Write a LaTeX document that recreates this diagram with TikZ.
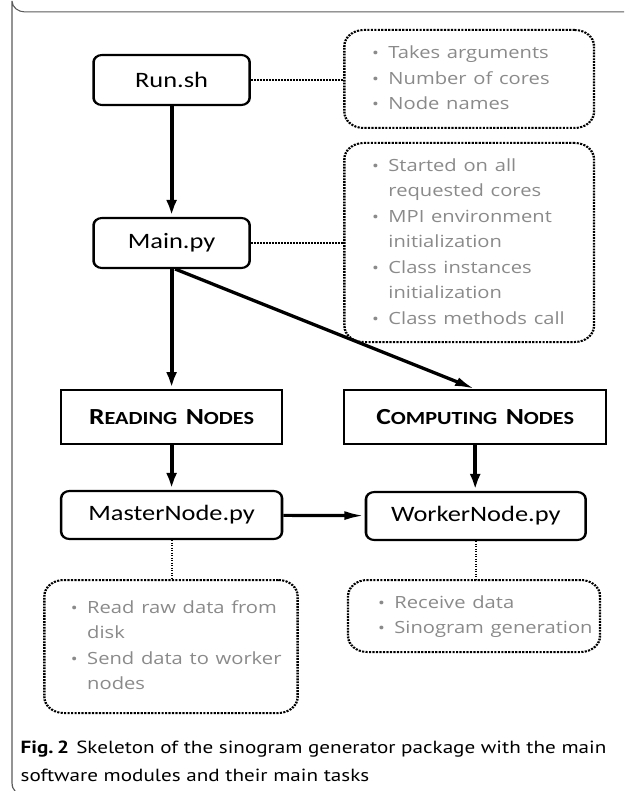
\documentclass[tikz,border=0pt]{standalone}
\usepackage{fontspec}
\setmainfont{Carlito}
\newfontfamily\capfont{PT Sans}
\newfontfamily\notefont{Open Sans}
\usetikzlibrary{arrows.meta}
\definecolor{notegray}{HTML}{8A8A8A}
\definecolor{framegray}{HTML}{5A5A5A}
\newcommand{\nb}{{\scalebox{0.9}{\textbullet}}}
\newcommand{\fsc}[2]{{\fontsize{23}{23}\selectfont #1}{\fontsize{18.5}{18.5}\selectfont #2}}
\tikzset{
  modbox/.style={draw, line width=2.1pt, rounded corners=7pt, fill=white, font=\fontsize{22}{22}\selectfont, inner sep=0pt},
  groupbox/.style={draw, line width=1.8pt, fill=white, font=\bfseries, inner sep=0pt},
  notebox/.style={draw, line width=2pt, dash pattern=on 1.8pt off 1.1pt, rounded corners=16pt, text=notegray, align=left, font=\notefont\fontsize{16.8}{25.5}\selectfont, inner ysep=0pt},
  flow/.style={line width=3.2pt, -{Latex[length=17pt,width=9pt]}},
  link/.style={line width=1.8pt, dash pattern=on 1.4pt off 1.1pt},
}
\begin{document}
\begin{tikzpicture}[x=1pt,y=-1pt]
\useasboundingbox (0,0) rectangle (624,791);
\begin{scope}[transform canvas={xscale=1.2}]
% frame
\draw[framegray, line width=1pt] (520,12) -- (21,12) arc[start angle=90, end angle=180, radius=11] -- (10,782) .. controls (10,787) and (11,789) .. (12.5,791);
% modules
\node[modbox, minimum width=130pt, minimum height=50pt] (run) at (143,80) {Run.sh};
\node[modbox, minimum width=130pt, minimum height=50pt] (main) at (143,243) {Main.py};
\node[groupbox, minimum width=184pt, minimum height=54pt] (read) at (143,417) {\fsc{R}{EADING}\hspace{7pt}\fsc{N}{ODES}};
\node[groupbox, minimum width=218pt, minimum height=54pt] (comp) at (396,417) {\fsc{C}{OMPUTING}\hspace{7pt}\fsc{N}{ODES}};
\node[modbox, minimum width=184pt, minimum height=48pt] (master) at (143,515) {MasterNode.py};
\node[modbox, minimum width=183pt, minimum height=48pt] (worker) at (396.5,516) {WorkerNode.py};
% notes
\node[notebox, minimum height=98pt, text width=162pt, inner xsep=23pt] (runnote) at (391,79) {%
\begin{tabular}{@{}l@{\hspace{8pt}}l@{}}
\nb & Takes arguments\\
\nb & Number of cores\\
\nb & Node names
\end{tabular}};
\node[notebox, minimum height=199pt, text width=162pt, inner xsep=23pt] (mainnote) at (391,242.5) {%
\begin{tabular}{@{}l@{\hspace{8pt}}l@{}}
\nb & Started on all\\
 & requested cores\\
\nb & MPI environment\\
 & initialization\\
\nb & Class instances\\
 & initialization\\
\nb & Class methods call
\end{tabular}};
\node[notebox, minimum height=133pt, text width=167pt, inner xsep=22pt] (masternote) at (142.5,646.5) {%
\begin{tabular}{@{}l@{\hspace{8pt}}l@{}}
\nb & Read raw data from\\
 & disk\\
\nb & Send data to worker\\
 & nodes
\end{tabular}};
\node[notebox, minimum height=72pt, text width=160pt, inner xsep=25pt] (workernote) at (395,616) {%
\begin{tabular}{@{}l@{\hspace{8pt}}l@{}}
\nb & Receive data\\
\nb & Sinogram generation
\end{tabular}};
% connectors
\draw[link] (run.east) -- (runnote.west |- run.east);
\draw[link] (main.east) -- (mainnote.west |- main.east);
\draw[link] (master.south) -- (master.south |- masternote.north);
\draw[link] (worker.south) -- (worker.south |- workernote.north);
\draw[flow] (run) -- (main);
\draw[flow] (main) -- (read);
\draw[flow] ([xshift=3pt]main.south) -- (comp.north);
\draw[flow] (read) -- (master);
\draw[flow] (comp.south) -- (comp.south |- worker.north);
\draw[flow] (master) -- (worker);
% caption
\node[anchor=base west, inner sep=0pt, font=\capfont\fontsize{17.6}{28}\selectfont] (cap1) at (17,753) {\textbf{Fig.\,2}\hspace{6pt}Skeleton of the sinogram generator package with the main};
\node[anchor=base west, inner sep=0pt, font=\capfont\fontsize{17.6}{28}\selectfont] (cap2) at (17,781) {software modules and their main tasks};
\end{scope}
\end{tikzpicture}
\end{document}
